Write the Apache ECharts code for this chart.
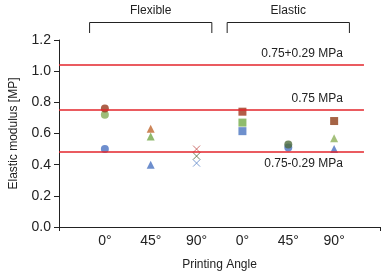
<!DOCTYPE html>
<html>
<head>
<meta charset="utf-8">
<script src="https://cdn.jsdelivr.net/npm/echarts@6/dist/echarts.min.js"></script>
<style>
  html, body { margin: 0; padding: 0; background: #fff; }
  #chart { width: 387px; height: 278px; }
</style>
</head>
<body>
<div id="chart"></div>
<script>
// x positions 1..6, slot 0 and 7 are empty margins
const angleLabels = ['0°', '45°', '90°', '0°', '45°', '90°']
const groups = [
  { name: 'Flexible', from: 0.667, to: 3.333 },
  { name: 'Elastic', from: 3.667, to: 6.333 }
]
// three samples per printing angle (null = not shown)
const sampleTop = [0.76, 0.63, 0.50, 0.74, null, 0.68]
const sampleMid = [0.72, 0.58, 0.455, 0.67, 0.53, 0.57]
const sampleLow = [0.50, 0.40, 0.41, 0.615, 0.51, 0.50]
// reference lines
const refValues = [1.04, 0.75, 0.48]
const refLabels = ['0.75+0.29 MPa', '0.75 MPa', '0.75-0.29 MPa']
const yTicks = [0, 0.2, 0.4, 0.6, 0.8, 1.0, 1.2]

const symbols = ['circle', 'triangle', 'path://M0,0L10,10M10,0L0,10', 'rect', 'circle', 'rect']
const symbolsLow = ['circle', 'triangle', 'path://M0,0L10,10M10,0L0,10', 'rect', 'circle', 'triangle']

const topColors = ['#98381c', '#c0672f', '#c0504d', '#a0341a', '#8f3a18', '#8e3c16']
const midColors = ['#86ad58', '#73a848', '#50633a', '#73ab49', '#4e6b3c', '#8db05a']
const lowColors = ['#4a72c2', '#4872c0', '#5b86c8', '#4a74c0', '#4a72c2', '#4a6fc0']

function buildSeries (name, values, syms, colors, z) {
  return {
    name: name,
    type: 'scatter',
    z: z,
    data: values.map(function (v, i) {
      if (v === null) return null
      const isX = syms[i].indexOf('path://') === 0
      return {
        value: [i + 1, v],
        symbol: syms[i],
        symbolSize: isX ? 7 : 8,
        itemStyle: isX
          ? { color: 'none', borderColor: colors[i], borderWidth: 1 }
          : { color: colors[i] }
      }
    }).filter(function (d) { return d !== null })
  }
}

const chart = echarts.init(document.getElementById('chart'))

const option = {
  animation: false,
  textStyle: { fontFamily: 'Liberation Sans, Arial, sans-serif' },
  grid: { left: 59, right: 7, top: 40, bottom: 51, outerBoundsMode: 'none', containLabel: false },
  xAxis: {
    type: 'value',
    min: 0,
    max: 7,
    interval: 1,
    name: 'Printing Angle',
    nameLocation: 'middle',
    nameGap: 32,
    nameTextStyle: { fontSize: 12, color: '#222' },
    splitLine: { show: false },
    axisLine: { lineStyle: { color: '#222', width: 1 } },
    axisTick: { show: true, customValues: [0, 7], length: 4, lineStyle: { color: '#222' } },
    axisLabel: {
      customValues: [1, 2, 3, 4, 5, 6],
      fontSize: 14,
      color: '#222',
      margin: 7,
      formatter: function (v) { return angleLabels[Math.round(v) - 1] || '' }
    }
  },
  yAxis: {
    type: 'value',
    min: 0,
    max: 1.2,
    interval: 0.2,
    name: 'Elastic modulus [MP]',
    nameLocation: 'middle',
    nameGap: 39,
    nameTextStyle: { fontSize: 12, color: '#222' },
    splitLine: { show: false },
    axisLine: { show: true, lineStyle: { color: '#222', width: 1 } },
    axisTick: { show: true, length: 5, lineStyle: { color: '#222' } },
    axisLabel: {
      fontSize: 14,
      color: '#222',
      margin: 8,
      customValues: yTicks,
      formatter: function (v) { return v.toFixed(1) }
    }
  },
  series: [
    {
      type: 'scatter',
      data: [],
      markLine: {
        silent: true,
        symbol: 'none',
        animation: false,
        lineStyle: { color: '#e3242b', width: 1.5, type: 'solid' },
        data: refValues.map(function (v, i) {
          return [
            { coord: [0, v] },
            {
              coord: [6.65, v],
              label: {
                show: true,
                formatter: refLabels[i],
                position: i === 2 ? 'insideEndBottom' : 'insideEndTop',
                distance: [21, 5],
                fontSize: 12,
                color: '#222'
              }
            }
          ]
        })
      }
    },
    buildSeries('low', sampleLow, symbolsLow, lowColors, 2),
    buildSeries('mid', sampleMid, symbolsLow, midColors, 3),
    buildSeries('top', sampleTop, symbols, topColors, 4)
  ]
}

chart.setOption(option)

// brackets with group names above the plot
const graphics = []
groups.forEach(function (g) {
  const x1 = chart.convertToPixel({ gridIndex: 0 }, [g.from, 0])[0]
  const x2 = chart.convertToPixel({ gridIndex: 0 }, [g.to, 0])[0]
  graphics.push({
    type: 'polyline',
    shape: { points: [[x1, 33], [x1, 22.5], [x2, 22.5], [x2, 33]] },
    style: { stroke: '#222', lineWidth: 1, fill: null }
  })
  graphics.push({
    type: 'text',
    x: (x1 + x2) / 2,
    y: 11,
    style: {
      text: g.name,
      fontSize: 12,
      fontFamily: 'Liberation Sans, Arial, sans-serif',
      fill: '#222',
      align: 'center',
      verticalAlign: 'middle'
    }
  })
})
chart.setOption({ graphic: graphics })
</script>
</body>
</html>
